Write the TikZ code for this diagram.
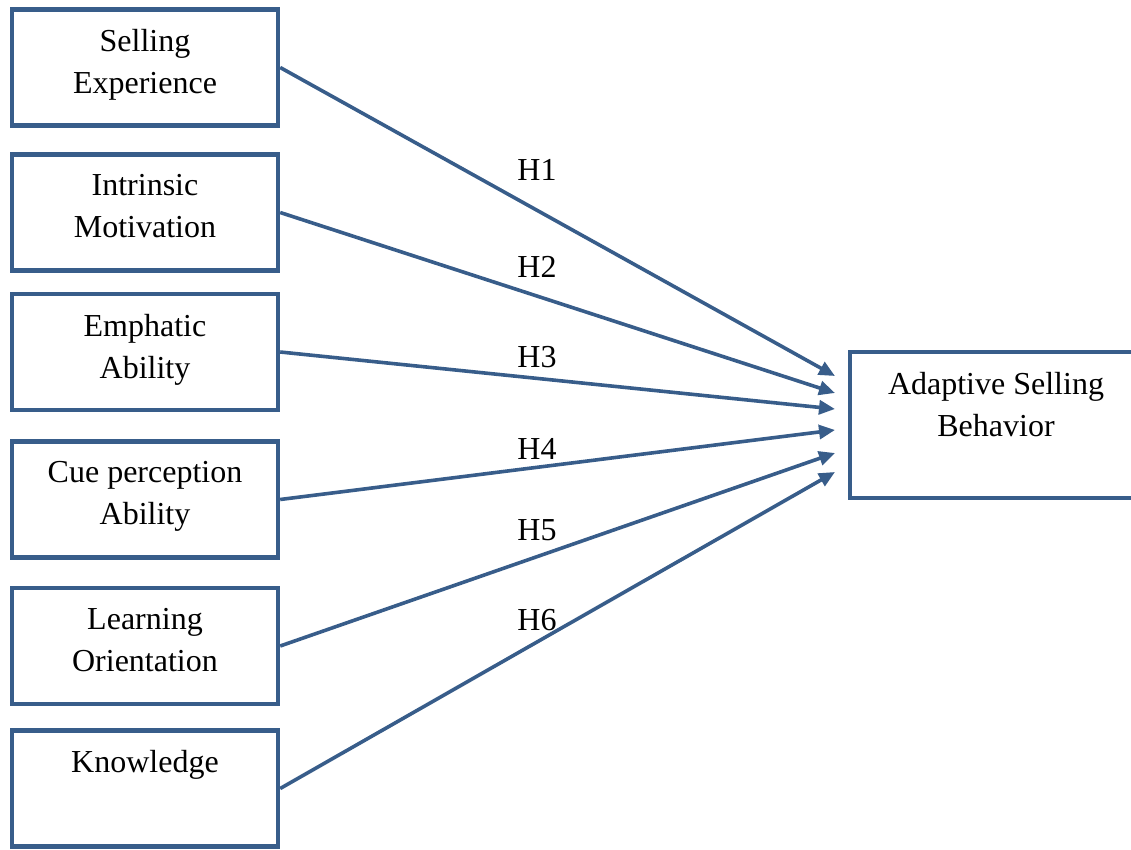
\documentclass[tikz,border=0pt]{standalone}
\usepackage{fontspec}
\setmainfont{Liberation Serif}
\usepackage{xcolor}
\usetikzlibrary{positioning,arrows.meta}
\definecolor{frameblue}{HTML}{385D8A}

\begin{document}
\begin{tikzpicture}[
  x=0.5pt, y=-0.5pt,
  box/.style={draw=frameblue, line width=2.2pt, minimum width=133pt, minimum height=58pt, inner sep=0pt},
  txt/.style={anchor=north, inner sep=0pt, yshift=-11pt, align=center, font=\fontsize{16}{21}\selectfont},
  arr/.style={-{Triangle[length=8pt,width=7pt]}, draw=frameblue, line width=1.8pt},
  hyp/.style={font=\fontsize{16}{21}\selectfont, inner sep=0pt}
]
\useasboundingbox (0,0) rectangle (1131,850);

\node[box, label={[txt]north:Selling\\Experience}] (se) at (145,67.5) {};
\node[box, label={[txt]north:Intrinsic\\Motivation}] (im) at (145,212.5) {};
\node[box, label={[txt]north:Emphatic\\Ability}] (ea) at (145,352) {};
\node[box, label={[txt]north:Cue perception\\Ability}] (cp) at (145,499.5) {};
\node[box, label={[txt]north:Learning\\Orientation}] (lo) at (145,646) {};
\node[box, label={[txt]north:Knowledge}] (kn) at (145,788.5) {};
\node[box, minimum width=146pt, minimum height=73pt, label={[txt]north:Adaptive Selling\\Behavior}] (asb) at (996,425) {};

% arrow ends left of the target box
\coordinate (t1) at (835,376);
\coordinate (t2) at (835,393);
\coordinate (t3) at (835,409);
\coordinate (t4) at (835,430);
\coordinate (t5) at (835,453);
\coordinate (t6) at (835,472);

\draw[arr] (se.east) -- (t1);
\draw[arr] (im.east) -- (t2);
\draw[arr] (ea.east) -- (t3);
\draw[arr] (cp.east) -- (t4);
\draw[arr] (lo.east) -- (t5);
\draw[arr] (kn.east) -- (t6);

\node[hyp] (h1) at (537,170) {H1};
\node[hyp] (h2) at (537,267) {H2};
\node[hyp] (h3) at (537,357) {H3};
\node[hyp] (h4) at (537,449) {H4};
\node[hyp] (h5) at (537,530) {H5};
\node[hyp] (h6) at (537,620) {H6};
\end{tikzpicture}
\end{document}
